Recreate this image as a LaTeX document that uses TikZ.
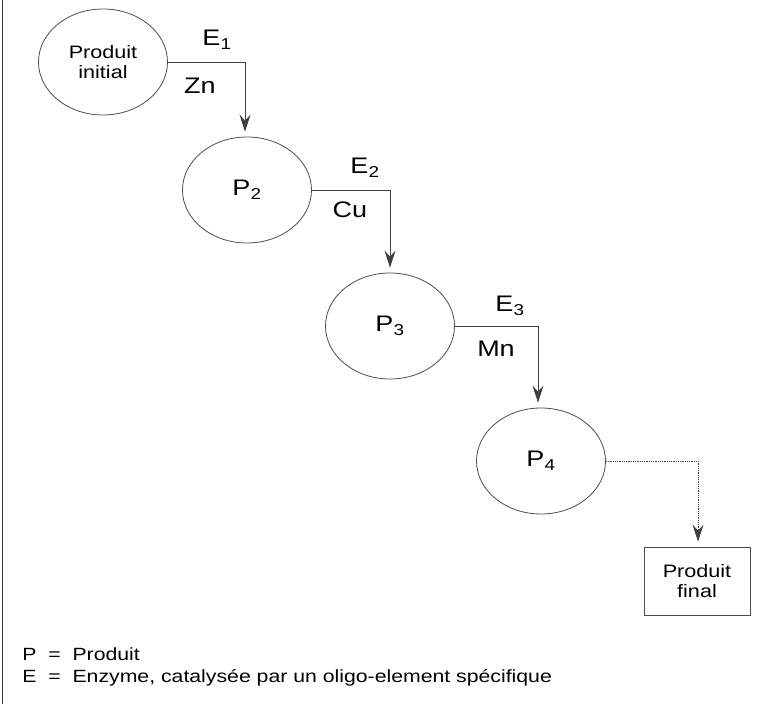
\documentclass[tikz,border=0pt]{standalone}
\usepackage{fontspec}
\setmainfont{Liberation Sans}[FakeStretch=1.2]
\usepackage{tikz}
\usetikzlibrary{shapes.geometric,arrows.meta,positioning}

\begin{document}
\begin{tikzpicture}[x=1pt,y=-1pt,
        line width=0.8pt,
        prod/.style = {draw=black!70,
            ellipse,
            inner sep=0pt,
            minimum width=129pt,
            minimum height=106pt,
            font=\fontsize{22.5}{24}\selectfont},
        lbl/.style = {inner sep=0pt,
            font=\fontsize{22.5}{24}\selectfont},
        flow/.style = {draw=black!75,
            shorten >=5pt,
            -{Stealth[length=17pt,width=11pt,inset=6pt]}}]

    \useasboundingbox (0,0) rectangle (782,704);
    \draw[black!80] (2.5,0) -- (2.5,704);

    % Products
    \node[prod,
        font=\fontsize{18}{20}\selectfont,
        align=center] (ellipse1) at (103,62) {Produit\\initial};
    \node[prod] (ellipse2) at (247,190) {P\textsubscript{2}};
    \node[prod] (ellipse3) at (390,326) {P\textsubscript{3}};
    \node[prod] (ellipse4) at (541,461) {P\textsubscript{4}};

    % Final product
    \node[draw=black!70,
        minimum width=106pt,
        minimum height=68pt,
        align=center,
        font=\fontsize{18}{20}\selectfont] (box1) at (697,581) {Produit\\final};

    % Corners
    \coordinate (c1) at (245,62);
    \coordinate (c2) at (390,190);
    \coordinate (c3) at (538,326);
    \coordinate (c4) at (698,461);

    % Steps
    \draw[flow] (ellipse1.east) -- (c1) -- (c1 |- ellipse2.north);
    \draw[flow] (ellipse2.east) -- (c2) -- (c2 |- ellipse3.north);
    \draw[flow] (ellipse3.east) -- (c3) -- (c3 |- ellipse4.north);
    \draw[flow, densely dotted] (ellipse4.east) -- (c4) -- (c4 |- box1.north);

    % Enzymes and elements
    \node[lbl] (e1) at (217,40) {E\textsubscript{1}};
    \node[lbl] (m1) at (200,86) {Zn};
    \node[lbl] (e2) at (365,168) {E\textsubscript{2}};
    \node[lbl] (m2) at (350,210) {Cu};
    \node[lbl] (e3) at (510,306) {E\textsubscript{3}};
    \node[lbl] (m3) at (496,349) {Mn};

    % Legend
    \node[anchor=base west, inner sep=0pt,
        font=\fontsize{17.7}{20}\selectfont] (legendP) at (22,660) {P\ \ =\ \ Produit};
    \node[anchor=base west, inner sep=0pt,
        font=\fontsize{17.7}{20}\selectfont] (legendE) at (22,682)
        {E\ \ =\ \ Enzyme, catalysée par un oligo-element spécifique};
\end{tikzpicture}
\end{document}
